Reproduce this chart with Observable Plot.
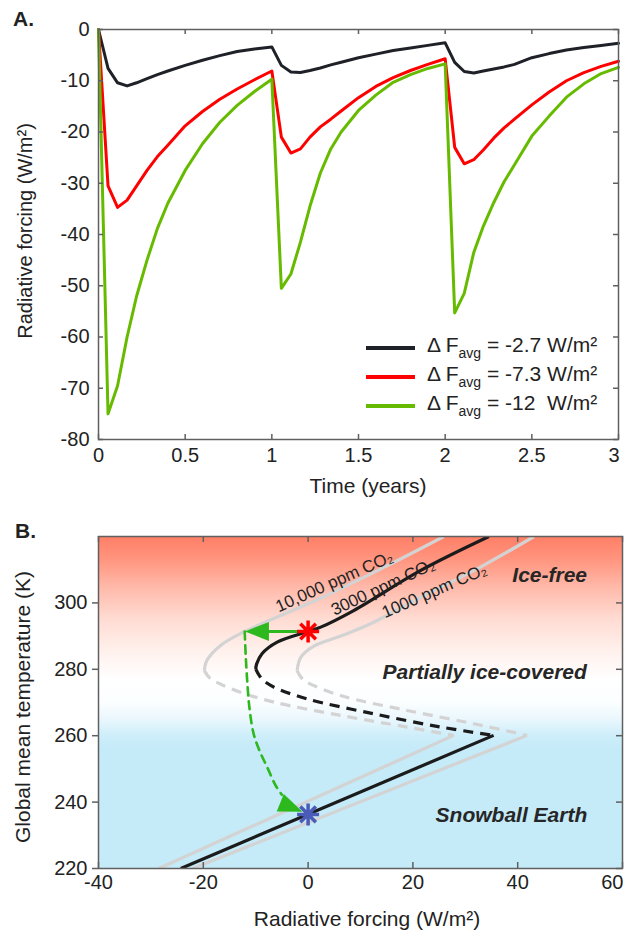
<!DOCTYPE html>
<html>
<head>
<meta charset="utf-8">
<script src="https://cdn.jsdelivr.net/npm/d3@7"></script>
<script src="https://cdn.jsdelivr.net/npm/@observablehq/plot@0.6"></script>
<style>
  html,body{margin:0;padding:0;background:#fff;}
  #wrap{position:relative;width:624px;height:932px;overflow:hidden;font-family:"Liberation Sans",Arial,Helvetica,sans-serif;color:#222;}
  #wrap svg{position:absolute;left:0;}
  .t{position:absolute;white-space:nowrap;line-height:1;}
  .sw{position:absolute;height:4px;width:49px;}
</style>
</head>
<body>
<div id="wrap"></div>
<script>
// ---------------- Panel A data ----------------
const timeYears = [0,0.055,0.11,0.165,0.22,0.28,0.34,0.4,0.5,0.6,0.7,0.8,0.9,
  1,1.055,1.11,1.165,1.22,1.28,1.34,1.4,1.5,1.6,1.7,1.8,1.9,
  2,2.055,2.11,2.165,2.22,2.28,2.34,2.4,2.5,2.6,2.7,2.8,2.9,3];
const forcingAvg27 = [0,-7.6,-10.4,-11,-10.4,-9.6,-8.8,-8.1,-7,-6,-5.1,-4.3,-3.8,
  -3.4,-7,-8.3,-8.4,-8,-7.5,-6.9,-6.4,-5.5,-4.8,-4.1,-3.6,-3.1,
  -2.6,-6.4,-8.2,-8.5,-8.1,-7.7,-7.3,-6.8,-5.5,-4.7,-4,-3.5,-3.1,-2.7];
const forcingAvg73 = [0,-30.5,-34.7,-33.3,-30.5,-27.5,-24.8,-22.6,-18.8,-16,-13.6,-11.6,-9.8,
  -8.1,-21,-24.1,-23.3,-21,-19,-17.5,-15.9,-13.3,-11.1,-9.4,-8,-6.8,
  -5.7,-23,-26.2,-25.4,-23.5,-21.2,-19.2,-17.5,-14.7,-12.2,-10,-8.4,-7.2,-6.2];
const forcingAvg12 = [0,-75,-69.5,-60,-52,-45,-38.8,-33.9,-27.5,-22.3,-18.1,-14.8,-12.1,
  -9.7,-50.5,-47.7,-41.5,-34.5,-28,-23.3,-20,-15.8,-12.8,-10.3,-8.8,-7.6,
  -6.7,-55.3,-51.5,-43.5,-38.4,-33.8,-29.7,-26.4,-20.8,-16.9,-13.2,-10.6,-8.6,-7.4];
const seriesLabels = ["-2.7", "-7.3", "-12"];
const seriesColors = ["#1e2127", "#ff0000", "#66bb00"];
const timeTicks = [0, 0.5, 1, 1.5, 2, 2.5, 3];
const forcingTicksA = [0, -10, -20, -30, -40, -50, -60, -70, -80];

// ---------------- Panel B data ----------------
const forcingTicksB = [-40, -20, 0, 20, 40, 60];
const tempTicksB = [220, 240, 260, 280, 300];
// 10,000 ppm CO2 (grey, left)
const c10000WarmF = [25.9, 15.1, 2.4, -12.1, -16.7, -19.3, -19.8];
const c10000WarmT = [320, 311.2, 301.4, 291.4, 287.2, 282.7, 279.6];
const c10000UnstF = [-19.8, -18.8, -16.8, -12.9, -6.5, 6.2, 18.9, 27.8];
const c10000UnstT = [279.6, 277.4, 275.6, 273.1, 270.1, 266.1, 262.6, 260.1];
const c10000ColdF = [27.8, -28.5];
const c10000ColdT = [260.1, 220];
// 3000 ppm CO2 (black)
const c3000WarmF = [34.5, 21.5, 8.7, 2.4, 0, -5.9, -8.8, -9.8, -10.0];
const c3000WarmT = [320, 309.8, 297.7, 292.7, 291.4, 288.2, 284.7, 281.7, 280.1];
const c3000UnstF = [-10.0, -9.3, -8.5, -6.5, -0.2, 12.5, 25.3, 35.4];
const c3000UnstT = [280.1, 278.1, 276.6, 274.6, 271.1, 266.6, 262.6, 260.1];
const c3000ColdF = [35.4, -24.3];
const c3000ColdT = [260.1, 220];
// 1000 ppm CO2 (grey, right)
const c1000WarmF = [43.1, 32.9, 21.5, 11.9, 6.2, 1.1, -1.4, -2.1];
const c1000WarmT = [320, 310.8, 301.7, 293.7, 290.0, 287.0, 283.6, 279.6];
const c1000UnstF = [-2.1, -1.3, -0.2, 6.2, 18.9, 31.6, 41.8];
const c1000UnstT = [279.6, 277.5, 276.1, 272.1, 267.6, 263.6, 260.1];
const c1000ColdF = [41.8, -22];
const c1000ColdT = [260.1, 220];
// transition path (green)
const pushF = [0, -9.5];
const pushT = [291.4, 291.4];
const fallF = [-12.1, -11.9, -11.6, -11.2, -10.4, -9.2, -7.8, -6.2, -5.0];
const fallT = [291.4, 284, 276, 268.5, 260.6, 255.2, 250.5, 245, 242.2];
const arrowHeadF = [-9.0, -3.9];
const arrowHeadT = [291.4, 238.9];
const arrowHeadAngle = [-90, 112];
const warmStateF = [0], warmStateT = [291.4];
const snowStateF = [0], snowStateT = [236.3];
const regionNames = ["Ice-free", "Partially ice-covered", "Snowball Earth"];
const regionF = [46.1, 33.7, 38.8];
const regionT = [308.3, 279, 236];
const co2Names = ["10,000 ppm CO\u2082", "3000 ppm CO\u2082", "1000 ppm CO\u2082"];
const co2LabelF = [5.0, 14.3, 24.1];
const co2LabelT = [306.4, 304.8, 303.6];
const co2LabelAngle = [-24, -25, -23.5];

// ---------------- helpers ----------------
const pts = (F, T) => F.map((f, i) => ({F: f, T: T[i]}));
const FONT = '"Liberation Sans", Arial, Helvetica, sans-serif';
const AX = "#606060";
const wrap = document.getElementById("wrap");
const last = a => a[a.length - 1];

// ---------------- Panel A ----------------
const seriesVals = [forcingAvg27, forcingAvg73, forcingAvg12];
const rowsA = seriesLabels.flatMap((name, si) => timeYears.map((t, i) => ({t, v: seriesVals[si][i], name})));
const wA = 624 - 98 - 6, hA = 500 - 29 - 61;
const plotA = Plot.plot({
  width: 624, height: 500,
  marginTop: 29, marginBottom: 61, marginLeft: 98, marginRight: 6,
  style: {fontFamily: FONT, fontSize: "20px", color: "#222", background: "none", overflow: "visible"},
  x: {domain: [0, 3], label: null},
  y: {domain: [-80, 0], label: null},
  color: {domain: seriesLabels, range: seriesColors},
  marks: [
    Plot.line(rowsA, {x: "t", y: "v", z: "name", stroke: "name", strokeWidth: 3, strokeLinejoin: "round"}),
    Plot.frame({stroke: AX, strokeWidth: 1.5}),
    Plot.tickX(timeTicks, {x: d => d, insetTop: hA - 5, stroke: AX, strokeWidth: 1.5}),
    Plot.tickX(timeTicks, {x: d => d, insetBottom: hA - 5, stroke: AX, strokeWidth: 1.5}),
    Plot.tickY(forcingTicksA, {y: d => d, insetRight: wA - 5, stroke: AX, strokeWidth: 1.5}),
    Plot.tickY(forcingTicksA, {y: d => d, insetLeft: wA - 5, stroke: AX, strokeWidth: 1.5}),
    Plot.axisX(timeTicks.slice(0, -1), {tickSize: 0, tickPadding: 8, tickFormat: d => String(d), label: null}),
    Plot.axisX([last(timeTicks)], {tickSize: 0, tickPadding: 8, textAnchor: "end", dx: 1, tickFormat: d => String(d), label: null}),
    Plot.axisY(forcingTicksA, {tickSize: 0, tickPadding: 9, tickFormat: d => String(d), label: null})
  ]
});
plotA.style.top = "0px";
wrap.appendChild(plotA);

// ---------------- Panel B ----------------
const arrowSym = {draw(ctx) { ctx.moveTo(0, -16); ctx.lineTo(9.5, 8); ctx.lineTo(-9.5, 8); ctx.closePath(); }};
const starSym = {draw(ctx) {
  const r = 11;
  for (let k = 0; k < 4; k++) {
    const a = k * Math.PI / 4;
    ctx.moveTo(r * Math.cos(a), r * Math.sin(a));
    ctx.lineTo(-r * Math.cos(a), -r * Math.sin(a));
  }
}};
const GREY = "#d3d3d3", BLK = "#1b1b1b", GRN = "#2db81e";
const DASH = "10,7";
const curveLine = (F, T, stroke, dashed, smooth) => Plot.line(pts(F, T), {
  x: "F", y: "T", stroke, strokeWidth: 3.2, strokeDasharray: dashed ? DASH : null,
  curve: smooth ? "catmull-rom" : "linear", clip: true, strokeLinecap: "butt"
});
const wB = 624 - 98 - 2, hB = 432 - 36 - 64;
const plotB = Plot.plot({
  width: 624, height: 432,
  marginTop: 36, marginBottom: 64, marginLeft: 98, marginRight: 2,
  style: {fontFamily: FONT, fontSize: "20px", color: "#222", background: "none", overflow: "visible"},
  x: {domain: [-40, 60], label: null},
  y: {domain: [220, 320], label: null},
  marks: [
    Plot.frame({fill: "url(#bgGradB)", stroke: null}),
    curveLine(c10000WarmF, c10000WarmT, GREY, false, true),
    curveLine(c10000UnstF, c10000UnstT, GREY, true, true),
    curveLine(c10000ColdF, c10000ColdT, GREY, false, false),
    curveLine(c1000WarmF, c1000WarmT, GREY, false, true),
    curveLine(c1000UnstF, c1000UnstT, GREY, true, true),
    curveLine(c1000ColdF, c1000ColdT, GREY, false, false),
    curveLine(c3000WarmF, c3000WarmT, BLK, false, true),
    curveLine(c3000UnstF, c3000UnstT, BLK, true, true),
    curveLine(c3000ColdF, c3000ColdT, BLK, false, false),
    Plot.line(pts(pushF, pushT), {x: "F", y: "T", stroke: GRN, strokeWidth: 3}),
    Plot.line(pts(fallF, fallT), {x: "F", y: "T", stroke: GRN, strokeWidth: 2.6, strokeDasharray: "8,6", curve: "catmull-rom"}),
    ...arrowHeadF.map((f, i) => Plot.dot([{F: f, T: arrowHeadT[i]}], {x: "F", y: "T", symbol: arrowSym, fill: GRN, stroke: "none", rotate: arrowHeadAngle[i]})),
    Plot.dot(pts(warmStateF, warmStateT), {x: "F", y: "T", symbol: starSym, fill: "none", stroke: "#ff0000", strokeWidth: 3.5}),
    Plot.dot(pts(snowStateF, snowStateT), {x: "F", y: "T", symbol: starSym, fill: "none", stroke: "#4a5cb8", strokeWidth: 3.5}),
    ...co2Names.map((n, i) => Plot.text([{F: co2LabelF[i], T: co2LabelT[i], n}], {x: "F", y: "T", text: "n", rotate: co2LabelAngle[i], fontSize: 17, fill: "#222"})),
    Plot.text(regionNames.map((n, i) => ({n, F: regionF[i], T: regionT[i]})), {x: "F", y: "T", text: "n", fontSize: 21, fontWeight: "bold", fontStyle: "italic", fill: "#262626"}),
    Plot.frame({stroke: AX, strokeWidth: 1.5}),
    Plot.tickX(forcingTicksB, {x: d => d, insetTop: hB - 6, stroke: AX, strokeWidth: 1.5}),
    Plot.tickX(forcingTicksB, {x: d => d, insetBottom: hB - 6, stroke: AX, strokeWidth: 1.5}),
    Plot.tickY(tempTicksB, {y: d => d, insetLeft: wB - 6, stroke: AX, strokeWidth: 1.5}),
    Plot.axisX(forcingTicksB.slice(0, -1), {tickSize: 0, tickPadding: 6, tickFormat: d => String(d), label: null}),
    Plot.axisX([last(forcingTicksB)], {tickSize: 0, tickPadding: 6, textAnchor: "end", dx: 1, tickFormat: d => String(d), label: null}),
    Plot.axisY(tempTicksB, {tickSize: 6, tickPadding: 5, stroke: AX, strokeWidth: 1.5, tickFormat: d => String(d), label: null})
  ]
});
// gradient background definition
const NS = "http://www.w3.org/2000/svg";
const defs = document.createElementNS(NS, "defs");
const grad = document.createElementNS(NS, "linearGradient");
grad.setAttribute("id", "bgGradB");
grad.setAttribute("x1", "0"); grad.setAttribute("y1", "0");
grad.setAttribute("x2", "0"); grad.setAttribute("y2", "1");
[[0, "#ff7f66"], [0.07, "#ff957f"], [0.16, "#ffbcad"], [0.25, "#ffdcd3"], [0.34, "#fff0eb"],
 [0.43, "#ffffff"], [0.5, "#fbfeff"], [0.55, "#eaf7fd"], [0.6, "#cdeefa"], [0.64, "#c5eaf8"], [1, "#c5eaf8"]]
  .forEach(([o, c]) => {
    const s = document.createElementNS(NS, "stop");
    s.setAttribute("offset", o); s.setAttribute("stop-color", c);
    grad.appendChild(s);
  });
defs.appendChild(grad);
plotB.insertBefore(defs, plotB.firstChild);
plotB.style.top = "500px";
wrap.appendChild(plotB);

// ---------------- HTML text: titles, legend ----------------
function addText(html, css) {
  const d = document.createElement("div");
  d.className = "t";
  d.innerHTML = html;
  Object.assign(d.style, css);
  wrap.appendChild(d);
  return d;
}
addText("A.", {left: "13px", top: "8px", fontSize: "21px", fontWeight: "bold"});
addText("B.", {left: "15px", top: "520px", fontSize: "21px", fontWeight: "bold"});
addText("Radiative forcing (W/m\u00B2)", {left: "25px", top: "231px", fontSize: "20px", transform: "translate(-50%,-50%) rotate(-90deg)"});
addText("Global mean temperature (K)", {left: "22px", top: "707px", fontSize: "21px", transform: "translate(-50%,-50%) rotate(-90deg)"});
addText("Time (years)", {left: "368px", top: "475px", fontSize: "21px", transform: "translateX(-50%)"});
addText("Radiative forcing (W/m\u00B2)", {left: "367px", top: "908px", fontSize: "21px", transform: "translateX(-50%)"});

const legendVals = ["-2.7", "-7.3", "-12&nbsp;"];
const legendSwatchY = [348, 377, 406];
const legendBaseY = [352, 381, 410];
legendVals.forEach((v, i) => {
  const sw = document.createElement("div");
  sw.className = "sw";
  Object.assign(sw.style, {left: "366px", top: (legendSwatchY[i] - 2) + "px", background: seriesColors[i]});
  wrap.appendChild(sw);
  addText(`\u0394 F<span style="font-size:14px;position:relative;top:6px">avg</span> = ${v} W/m\u00B2`,
    {left: "427px", top: (legendBaseY[i] - 17.8) + "px", fontSize: "21px"});
});
</script>
</body>
</html>
